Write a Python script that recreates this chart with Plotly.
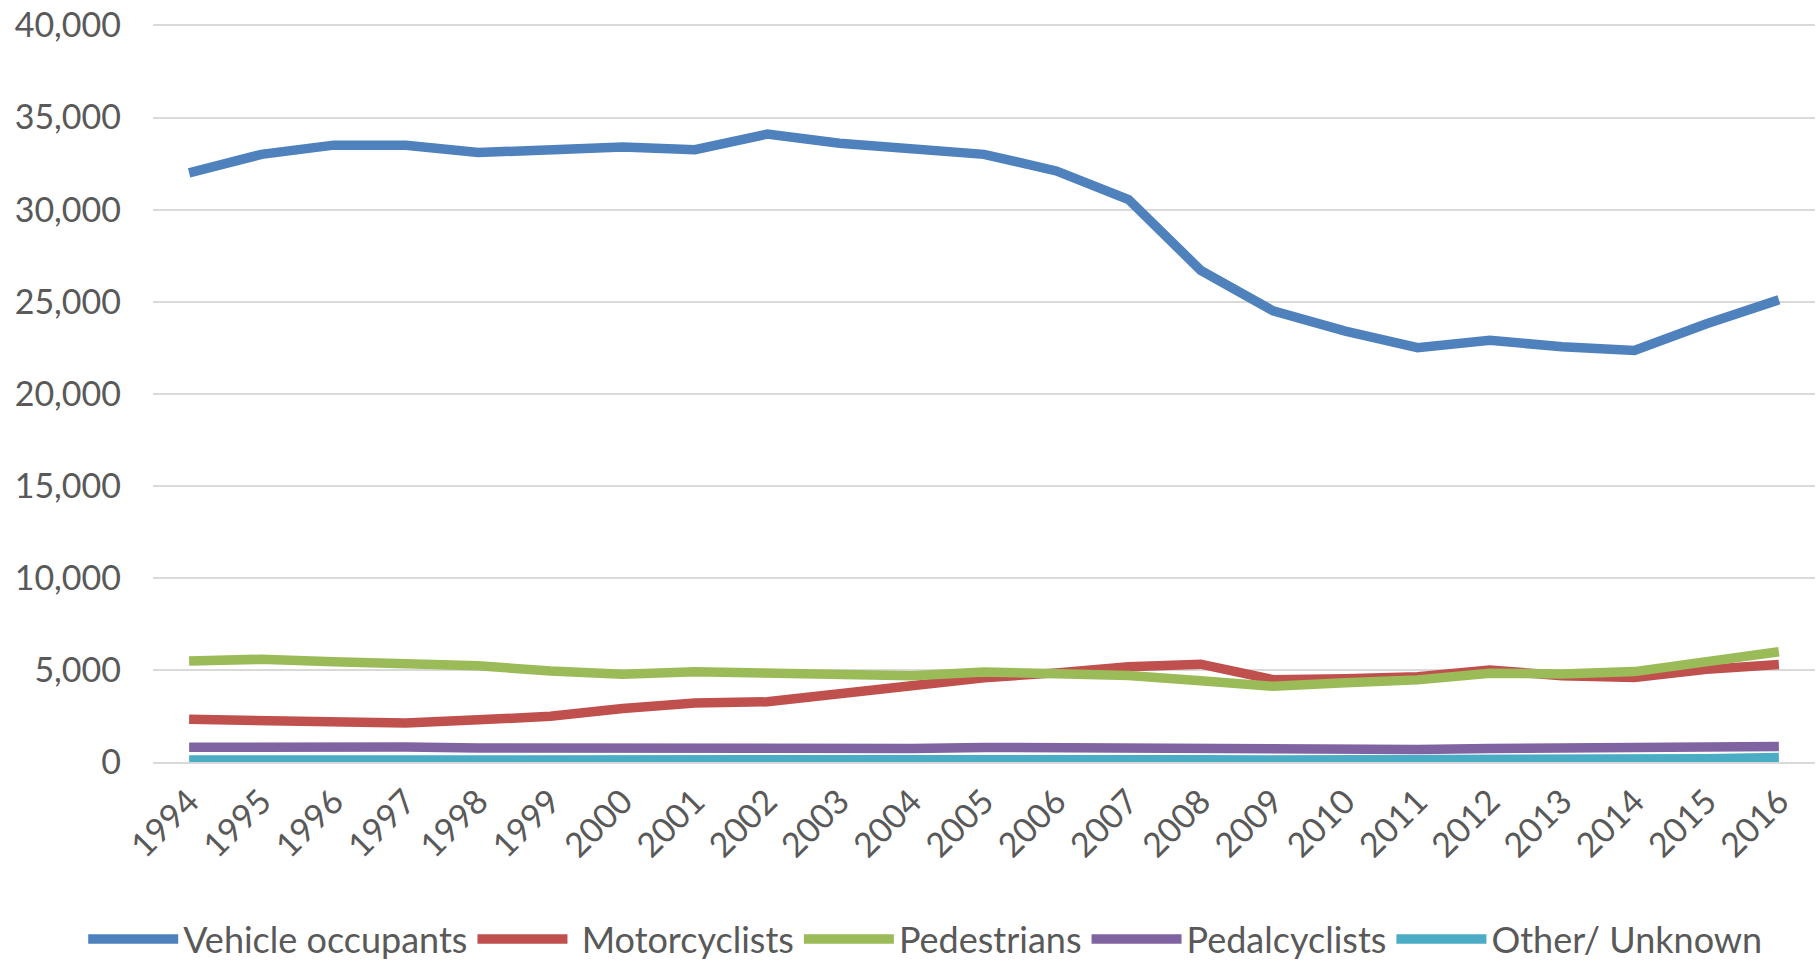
import plotly.graph_objects as go

years = [str(y) for y in range(1994, 2017)]

vehicle_occupants = [32000, 33000, 33500, 33500, 33100, 33300, 33400, 33250, 34100, 33600,
                     33300, 33000, 32100, 30550, 26700, 24500, 23400, 22500, 22900, 22550,
                     22350, 23800, 25100]
motorcyclists = [2320, 2230, 2160, 2120, 2290, 2480, 2900, 3200, 3270, 3710,
                 4030, 4580, 4840, 5170, 5310, 4470, 4520, 4630, 4990, 4690,
                 4590, 5030, 5290]
pedestrians = [5490, 5580, 5450, 5320, 5230, 4940, 4760, 4900, 4850, 4770,
               4680, 4890, 4800, 4700, 4410, 4110, 4300, 4460, 4820, 4780,
               4910, 5490, 5990]
pedalcyclists = [800, 830, 770, 810, 760, 750, 690, 730, 670, 630,
                 730, 790, 770, 700, 720, 630, 620, 680, 730, 750,
                 730, 830, 840]
other_unknown = [110, 120, 130, 140, 130, 120, 120, 110, 110, 120,
                 130, 140, 130, 130, 120, 110, 110, 110, 120, 120,
                 130, 180, 250]

series_names = ["Vehicle occupants", " Motorcyclists", "Pedestrians", "Pedalcyclists", "Other/ Unknown"]
series_values = [vehicle_occupants, motorcyclists, pedestrians, pedalcyclists, other_unknown]
series_colors = ["#4F81BD", "#C0504D", "#9BBB59", "#8064A2", "#4BACC6"]

y_tickvals = [0, 5000, 10000, 15000, 20000, 25000, 30000, 35000, 40000]
y_ticktext = ["0", "5,000", "10,000", "15,000", "20,000", "25,000", "30,000", "35,000", "40,000"]

FONT = "Lato, 'Liberation Sans', Arial, sans-serif"
TXT = "#595959"

fig = go.Figure()
for name, vals, col in zip(series_names, series_values, series_colors):
    fig.add_trace(go.Scatter(x=years, y=vals, name=name, mode="lines",
                             line=dict(color=col, width=9.5), hoverinfo="x+y+name"))

fig.update_layout(
    width=1817, height=960,
    margin=dict(l=153, r=2, t=24, b=198, autoexpand=False),
    paper_bgcolor="white", plot_bgcolor="white",
    font=dict(family=FONT, size=34, color=TXT),
    showlegend=True,
    legend=dict(orientation="h", x=-0.042, xanchor="left", y=-0.24, yanchor="middle",
                font=dict(family=FONT, size=36, color=TXT), itemwidth=90,
                tracegroupgap=0, bgcolor="rgba(0,0,0,0)"),
)
fig.update_xaxes(type="category", range=[-0.5, 22.5], tickangle=-45, automargin=False,
                 showgrid=False, showline=True, linecolor="#D9D9D9", linewidth=2,
                 ticks="", tickfont=dict(family=FONT, size=34, color=TXT),
                 ticklabelstandoff=4, zeroline=False, ticklabeloverflow="allow")
fig.update_yaxes(range=[0, 40080], tickvals=y_tickvals, ticktext=y_ticktext, automargin=False,
                 showgrid=True, gridcolor="#D9D9D9", gridwidth=2,
                 showline=False, zeroline=False, ticks="",
                 tickfont=dict(family=FONT, size=34, color=TXT),
                 ticklabelstandoff=31, ticklabeloverflow="allow")

fig.write_html("out.html", config={"displayModeBar": False},
               post_script="document.body.style.margin='0';document.body.style.overflow='hidden';")
